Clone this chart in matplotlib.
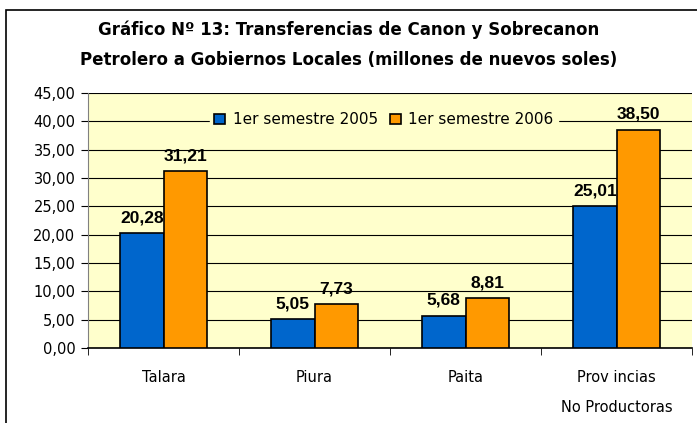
import numpy as np
import matplotlib
matplotlib.use('Agg')
import matplotlib.pyplot as plt
from matplotlib.patches import Rectangle

categories = ['Talara', 'Piura', 'Paita', 'Prov incias\nNo Productoras']
sem_2005 = [20.28, 5.05, 5.68, 25.01]
sem_2006 = [31.21, 7.73, 8.81, 38.50]
labels = ['1er semestre 2005', '1er semestre 2006']
yticks = [0, 5, 10, 15, 20, 25, 30, 35, 40, 45]

BLUE = '#0066CC'
ORANGE = '#FF9900'
BG = '#FFFFCC'

fig = plt.figure(figsize=(6.97, 4.23), dpi=100)
# outer frame of the chart
fig.patches.append(Rectangle((6 / 697, -0.05), 1.1, 1 - 10 / 423 + 0.05,
                             transform=fig.transFigure, fill=False,
                             edgecolor='black', linewidth=1.2))

ax = fig.add_axes([88 / 697, 1 - 348 / 423, 604 / 697, 255 / 423])
ax.set_facecolor(BG)

x = np.arange(len(categories))
w = 0.287
b1 = ax.bar(x - w / 2, sem_2005, w, color=BLUE, edgecolor='black', linewidth=1.2,
            label=labels[0], zorder=3)
b2 = ax.bar(x + w / 2, sem_2006, w, color=ORANGE, edgecolor='black', linewidth=1.2,
            label=labels[1], zorder=3)

for bars in (b1, b2):
    for r in bars:
        v = r.get_height()
        ax.text(r.get_x() + r.get_width() / 2, v + 1.95, f'{v:.2f}'.replace('.', ','),
                ha='center', va='baseline', fontsize=12.5, fontweight='bold',
                family='Liberation Sans', zorder=4)

ax.set_xlim(-0.5, len(categories) - 0.5)
ax.set_ylim(0, 45)
ax.set_yticks(yticks)
ax.set_yticklabels([f'{v:.2f}'.replace('.', ',') for v in yticks], fontsize=10.5)
ax.yaxis.grid(True, color='black', linewidth=0.8, zorder=0)
ax.set_axisbelow(True)

ax.set_xticks(x)
ax.set_xticklabels(categories, fontsize=10.5, linespacing=2.2)
ax.tick_params(axis='x', length=0, pad=16)
ax.set_xticks(np.arange(len(categories) + 1) - 0.5, minor=True)
ax.tick_params(axis='x', which='minor', length=5, color='black')
ax.tick_params(axis='y', length=5, color='black', pad=4)

for s in ['top', 'right']:
    ax.spines[s].set_visible(False)
ax.spines['left'].set_color('#808080')
ax.spines['bottom'].set_color('black')
ax.spines['bottom'].set_linewidth(1.2)

leg = ax.legend(loc='center', bbox_to_anchor=(0.49, 0.895), ncol=2, frameon=True,
                fontsize=11, handlelength=0.7, handleheight=0.7, handletextpad=0.5,
                columnspacing=0.8, borderpad=0.3)
leg.get_frame().set_facecolor(BG)
leg.get_frame().set_edgecolor(BG)
leg.get_frame().set_alpha(1)
leg.set_zorder(5)

fig.text(0.5, 1 - 30 / 423, 'Gráfico Nº 13: Transferencias de Canon y Sobrecanon',
         ha='center', va='center', fontsize=12, fontweight='bold')
fig.text(0.5, 1 - 60 / 423, 'Petrolero a Gobiernos Locales (millones de nuevos soles)',
         ha='center', va='center', fontsize=12, fontweight='bold')

fig.savefig('out.png', dpi=100, facecolor='white')
